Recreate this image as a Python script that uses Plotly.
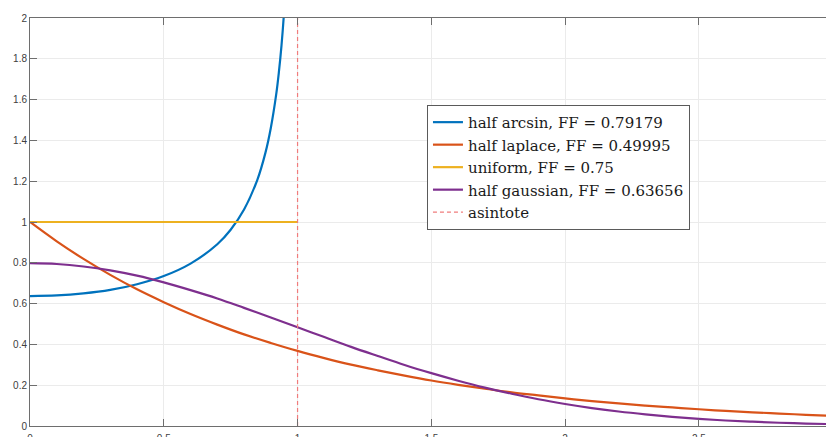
import plotly.graph_objects as go

# Sampled density curves (x grid and values)
x_tail = [0.0, 0.1, 0.2, 0.3, 0.4, 0.5, 0.6, 0.7, 0.8, 0.9, 1.0,
          1.1, 1.2, 1.3, 1.4, 1.5, 1.6, 1.7, 1.8, 1.9, 2.0,
          2.1, 2.2, 2.3, 2.4, 2.5, 2.6, 2.7, 2.8, 2.9, 3.0]
laplace_y = [1.000, 0.905, 0.819, 0.741, 0.670, 0.607, 0.549, 0.497, 0.449, 0.407, 0.368,
             0.333, 0.301, 0.273, 0.247, 0.223, 0.202, 0.183, 0.165, 0.150, 0.135,
             0.122, 0.111, 0.100, 0.091, 0.082, 0.074, 0.067, 0.061, 0.055, 0.050]
gauss_y = [0.798, 0.794, 0.782, 0.763, 0.737, 0.704, 0.666, 0.625, 0.579, 0.532, 0.484,
           0.436, 0.388, 0.343, 0.299, 0.259, 0.222, 0.188, 0.158, 0.131, 0.108,
           0.088, 0.071, 0.057, 0.045, 0.035, 0.027, 0.021, 0.016, 0.012, 0.009]

x_arcsin = [0.0, 0.1, 0.2, 0.3, 0.4, 0.5, 0.6, 0.7, 0.75, 0.8, 0.85, 0.88,
            0.9, 0.92, 0.93, 0.94, 0.95, 0.96]
arcsin_y = [0.637, 0.640, 0.650, 0.667, 0.695, 0.735, 0.796, 0.891, 0.962, 1.061, 1.208, 1.340,
            1.461, 1.624, 1.732, 1.866, 2.039, 2.274]

x_uniform = [0.0, 1.0]
uniform_y = [1.0, 1.0]

x_asym = [1.0, 1.0]
asym_y = [0.0, 2.0]

names = ["half arcsin, FF = 0.79179",
         "half laplace, FF = 0.49995",
         "uniform, FF = 0.75",
         "half gaussian, FF = 0.63656",
         "asintote"]
colors = ["#0072BD", "#D95319", "#EDB120", "#7E2F8E", "#f07c7c"]

x_ticks = [0, 0.5, 1, 1.5, 2, 2.5]
y_ticks = [0, 0.2, 0.4, 0.6, 0.8, 1, 1.2, 1.4, 1.6, 1.8, 2]

fig = go.Figure()
fig.add_trace(go.Scatter(x=x_arcsin, y=arcsin_y, mode="lines", name=names[0],
                         line=dict(color=colors[0], width=2.2, shape="spline")))
fig.add_trace(go.Scatter(x=x_tail, y=laplace_y, mode="lines", name=names[1],
                         line=dict(color=colors[1], width=2.2, shape="spline")))
fig.add_trace(go.Scatter(x=x_uniform, y=uniform_y, mode="lines", name=names[2],
                         line=dict(color=colors[2], width=2.2)))
fig.add_trace(go.Scatter(x=x_tail, y=gauss_y, mode="lines", name=names[3],
                         line=dict(color=colors[3], width=2.2, shape="spline")))
fig.add_trace(go.Scatter(x=x_asym, y=asym_y, mode="lines", name=names[4],
                         line=dict(color=colors[4], width=1.2, dash="4px,3px")))

axis_color = "#6e6e6e"
tick_font = dict(family="Liberation Sans, Arial, sans-serif", size=10, color="#404040")

fig.update_layout(
    width=826, height=437,
    margin=dict(l=30, r=0, t=18, b=11),
    paper_bgcolor="white", plot_bgcolor="white",
    showlegend=True,
    legend=dict(
        x=0.4987, y=0.787, xanchor="left", yanchor="top",
        bgcolor="white", bordercolor="#5a5a5a", borderwidth=1,
        font=dict(family="DejaVu Serif, serif", size=15, color="#1a1a1a"),
        itemwidth=30,
    ),
    xaxis=dict(
        range=[0, 2.975], tickvals=x_ticks, ticktext=[str(v) for v in x_ticks],
        showgrid=True, gridcolor="#ebebeb", gridwidth=1, zeroline=False,
        showline=True, linecolor=axis_color, linewidth=1, mirror="ticks",
        ticks="inside", ticklen=7, tickcolor=axis_color, tickfont=tick_font,
        ticklabelstandoff=3, automargin=False,
    ),
    yaxis=dict(
        range=[0, 2], tickvals=y_ticks, ticktext=[f"{v:g}" for v in y_ticks],
        showgrid=True, gridcolor="#ebebeb", gridwidth=1, zeroline=False,
        showline=True, linecolor=axis_color, linewidth=1, mirror=False,
        ticks="inside", ticklen=7, tickcolor=axis_color, tickfont=tick_font,
        automargin=False,
    ),
)

fig.write_html("out.html")
